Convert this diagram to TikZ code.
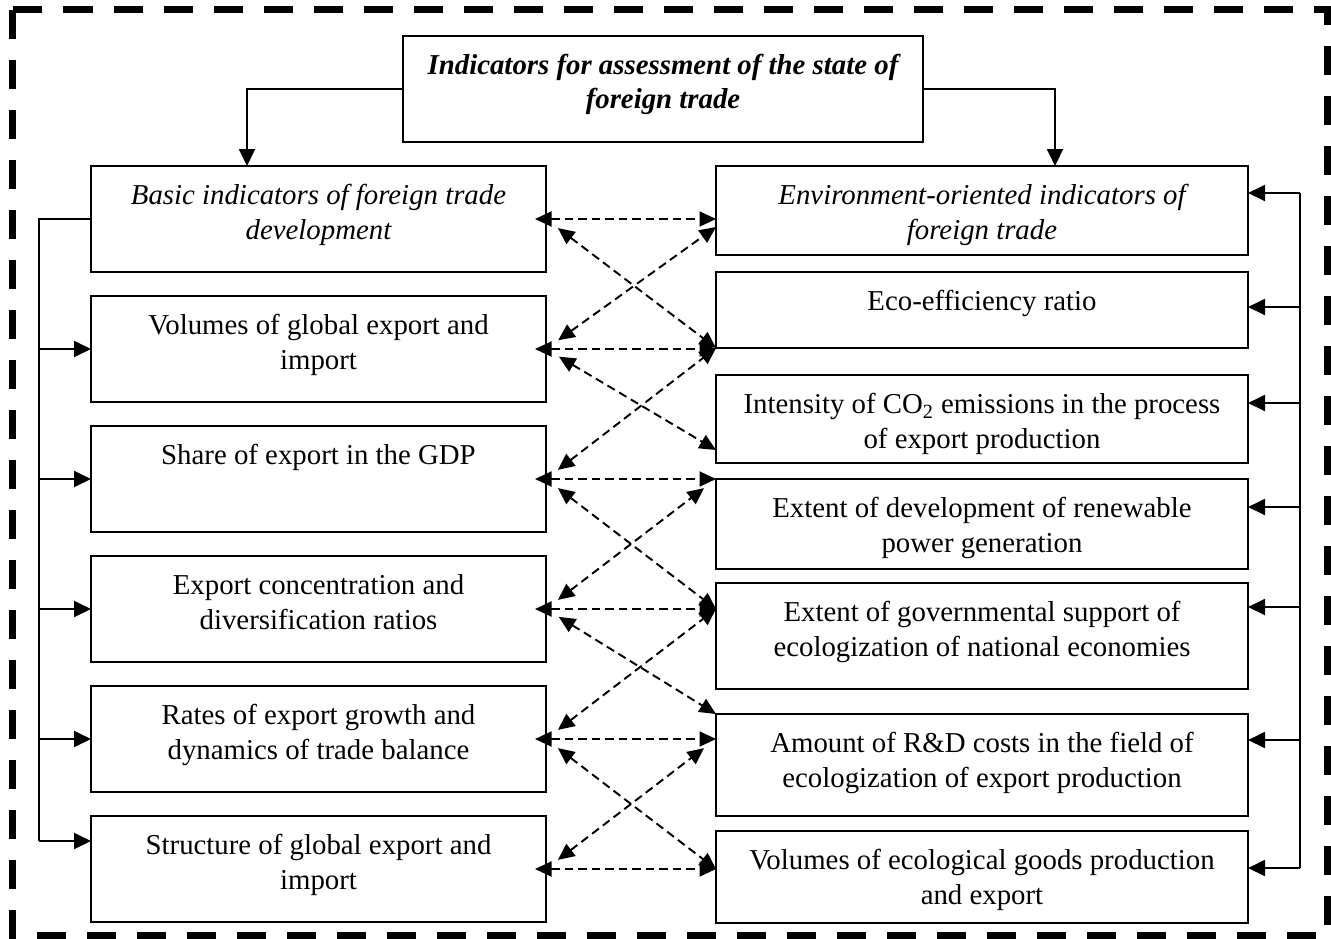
\documentclass[tikz,border=0pt]{standalone}
\usepackage{fontspec}
\setmainfont{Liberation Serif}
\usetikzlibrary{arrows.meta, positioning}

\begin{document}
\begin{tikzpicture}[
    node distance=0.48cm,
    box/.style      = {rectangle, draw, line width=1.1pt, inner sep=0pt, outer sep=0pt, align=flush center, text height=0.77cm, font=\fontsize{16.4}{19.8}\selectfont},
    title/.style    = {box, text width=10.4cm, text height=0.76cm, text depth=1.36cm, font=\fontsize{16.4}{19.8}\selectfont\bfseries\itshape},
    basicbox/.style = {box, text width=9.1cm, text depth=1.35cm},
    ecobox/.style   = {box, text width=10.64cm, text depth=#1},
    wire/.style     = {line width=1.1pt},
    arrow/.style    = {wire, -{Triangle[length=0.34cm, width=0.32cm]}},
    link/.style     = {wire, dash pattern=on 0.17cm off 0.1cm, {Triangle[length=0.33cm, width=0.3cm]}-{Triangle[length=0.33cm, width=0.3cm]}},
    cross/.style    = {link, shorten <=0.3cm}
]
    \useasboundingbox (0,0) rectangle (26.62,-18.76);

    % --- Bingkai Putus-putus ---
    \draw [line width=0.14cm, dash pattern=on 0.58cm off 0.42cm] (0.25,-0.19) rectangle (26.54,-18.70);

    % --- Judul ---
    \node (top) [title] at (13.26,-1.78) {Indicators for assessment of the state of\\foreign trade};

    % --- Kolom Kiri: Indikator Dasar ---
    \node (basic)  [basicbox, anchor=north west] at (1.82,-3.32) {\itshape Basic indicators of foreign trade\\development};
    \node (vol)    [basicbox, below=of basic] {Volumes of global export and\\import};
    \node (share)  [basicbox, below=of vol] {Share of export in the GDP};
    \node (conc)   [basicbox, below=of share] {Export concentration and\\diversification ratios};
    \node (rates)  [basicbox, below=of conc] {Rates of export growth and\\dynamics of trade balance};
    \node (struct) [basicbox, below=of rates] {Structure of global export and\\import};

    % --- Kolom Kanan: Indikator Lingkungan ---
    \node (env)   [ecobox=1.01cm, anchor=north west] at (14.32,-3.32) {\itshape Environment-oriented indicators of\\foreign trade};
    \node (eco)   [ecobox=0.75cm, below=0.34cm of env] {Eco-efficiency ratio};
    \node (co2)   [ecobox=0.99cm, below=0.54cm of eco] {Intensity of CO\textsubscript{2} emissions in the process\\of export production};
    \node (renew) [ecobox=1.03cm, below=0.32cm of co2] {Extent of development of renewable\\power generation};
    \node (gov)   [ecobox=1.35cm, below=0.28cm of renew] {Extent of governmental support of\\ecologization of national economies};
    \node (rnd)   [ecobox=1.27cm, below=0.50cm of gov] {Amount of R\&D costs in the field of\\ecologization of export production};
    \node (goods) [ecobox=1.07cm, below=0.30cm of rnd] {Volumes of ecological goods production\\and export};

    % --- Dari Judul ke Dua Kolom ---
    \draw [arrow] (top.west) -| ([xshift=3.12cm]basic.north west);
    \draw [arrow] (top.east) -| ([xshift=-3.86cm]env.north east);

    % --- Bus Kiri ---
    \coordinate (lbus) at ([xshift=-1.04cm]basic.west);
    \coordinate (s1) at ([yshift=0.56cm]struct.west);
    \draw [wire] (basic.west) -- (lbus) -- (lbus |- s1);
    \draw [arrow] (lbus |- vol.west) -- (vol.west);
    \draw [arrow] (lbus |- share.west) -- (share.west);
    \draw [arrow] (lbus |- conc.west) -- (conc.west);
    \draw [arrow] (lbus |- rates.west) -- (rates.west);
    \draw [arrow] (lbus |- s1) -- (s1);

    % --- Bus Kanan ---
    \coordinate (in1) at ([yshift=-0.54cm]env.north east);
    \coordinate (in2) at ([yshift=-0.70cm]eco.north east);
    \coordinate (in3) at ([yshift=-0.56cm]co2.north east);
    \coordinate (in4) at ([yshift=-0.56cm]renew.north east);
    \coordinate (in5) at ([yshift=-0.48cm]gov.north east);
    \coordinate (in6) at ([yshift=-0.52cm]rnd.north east);
    \coordinate (in7) at ([yshift=-0.74cm]goods.north east);
    \coordinate (rbus) at ([xshift=1.04cm]in1);
    \draw [wire] (rbus) -- (rbus |- in7);
    \draw [arrow] (rbus) -- (in1);
    \draw [arrow] (rbus |- in2) -- (in2);
    \draw [arrow] (rbus |- in3) -- (in3);
    \draw [arrow] (rbus |- in4) -- (in4);
    \draw [arrow] (rbus |- in5) -- (in5);
    \draw [arrow] (rbus |- in6) -- (in6);
    \draw [arrow] (rbus |- in7) -- (in7);

    % --- Hubungan Mendatar ---
    \draw [link] ([xshift=-0.22cm]basic.east) -- (basic.east -| env.west);
    \draw [link] ([xshift=-0.22cm]vol.east) -- (vol.east -| eco.west);
    \draw [link] ([xshift=-0.22cm]share.east) -- (share.east -| renew.west);
    \draw [link] ([xshift=-0.22cm]conc.east) -- (conc.east -| gov.west);
    \draw [link] ([xshift=-0.22cm]rates.east) -- (rates.east -| rnd.west);
    \draw [link] ([xshift=-0.22cm]struct.east) -- (struct.east -| goods.west);

    % --- Hubungan Silang ---
    \draw [cross] (basic.east) -- (eco.south west);
    \draw [cross] (vol.east) -- ([yshift=-0.16cm]basic.east -| env.west);
    \draw [cross] (vol.east) -- ([yshift=0.26cm]co2.south west);
    \draw [cross] (share.east) -- (eco.south west);
    \draw [cross] (share.east) -- (conc.east -| gov.west);
    \draw [cross, shorten >=0.3cm] (conc.east) -- (renew.north west);
    \draw [cross] (conc.east) -- (rnd.north west);
    \draw [cross] (rates.east) -- (conc.east -| gov.west);
    \draw [cross] (rates.east) -- (struct.east -| goods.west);
    \draw [cross, shorten >=0.3cm] (struct.east) -- (rates.east -| rnd.west);

\end{tikzpicture}
\end{document}
